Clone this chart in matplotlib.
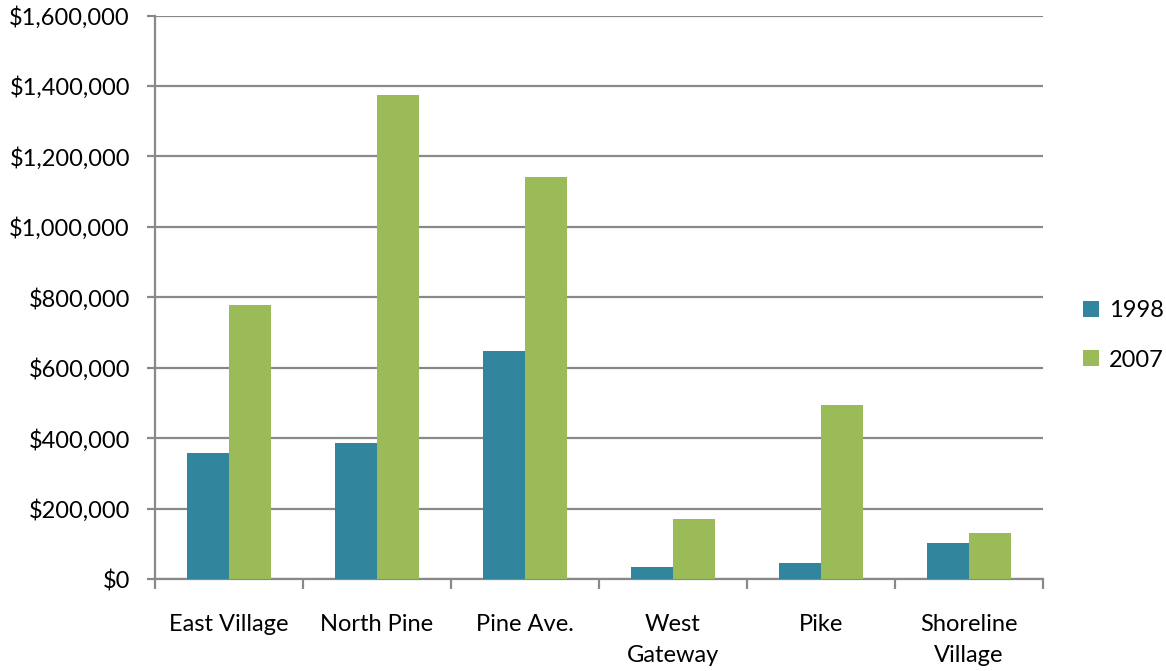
import matplotlib
matplotlib.use("Agg")
import matplotlib.pyplot as plt
import numpy as np
from matplotlib.ticker import FuncFormatter, MultipleLocator, FixedLocator
from matplotlib.patches import Patch

categories = ["East Village", "North Pine", "Pine Ave.", "West\nGateway", "Pike", "Shoreline\nVillage"]
values_1998 = [360000, 388000, 648000, 36000, 47000, 104000]
values_2007 = [780000, 1375000, 1142000, 172000, 495000, 132000]
series_names = ["1998", "2007"]
colors = ["#31859C", "#9BBB59"]

plt.rcParams['font.family'] = ['Lato', 'DejaVu Sans']

fig = plt.figure(figsize=(11.66, 6.71), dpi=100)
ax = fig.add_axes([0.1329, 0.1364, 0.7616, 0.8405])

x = np.arange(len(categories))
w = 0.284
ax.bar(x - w / 2, values_1998, width=w, color=colors[0], zorder=3)
ax.bar(x + w / 2, values_2007, width=w, color=colors[1], zorder=3)

ax.set_xlim(-0.5, len(categories) - 0.5)
ax.set_ylim(0, 1600000)
ax.yaxis.set_major_locator(MultipleLocator(200000))
ax.yaxis.set_major_formatter(FuncFormatter(lambda v, p: "${:,.0f}".format(v)))

grid_color = "#898989"
ax.grid(axis="y", color=grid_color, linewidth=1.6, zorder=0)
for s in ["top", "right"]:
    ax.spines[s].set_visible(False)
for s in ["left", "bottom"]:
    ax.spines[s].set_color(grid_color)
    ax.spines[s].set_linewidth(1.6)

ax.set_xticks(x)
ax.set_xticklabels(categories, fontsize=17, linespacing=1.55)
ax.tick_params(axis="x", which="major", length=0, pad=25)
ax.xaxis.set_minor_locator(FixedLocator(np.arange(-0.5, len(categories), 1.0)))
ax.tick_params(axis="x", which="minor", length=7, width=1.6, color=grid_color)
ax.tick_params(axis="y", length=6, width=1.6, color=grid_color, labelsize=17, pad=12)
for lbl in ax.get_xticklabels():
    lbl.set_verticalalignment("top")

handles = [Patch(facecolor=c, edgecolor="none") for c in colors]
fig.legend(handles, series_names, loc="center left", bbox_to_anchor=(0.929, 0.5),
           frameon=False, fontsize=17, handlelength=0.65, handleheight=0.65,
           handletextpad=0.45, labelspacing=1.2, borderpad=0, borderaxespad=0)

fig.savefig("out.png", dpi=100)
